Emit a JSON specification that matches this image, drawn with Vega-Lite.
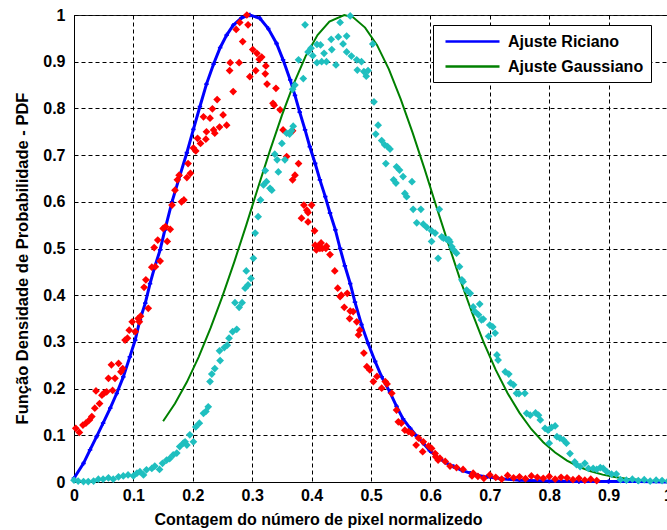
{
  "$schema": "https://vega.github.io/schema/vega-lite/v6.json",
  "width": 594,
  "height": 467,
  "autosize": {"type": "none"},
  "padding": {"left": 74, "top": 15, "right": 0, "bottom": 48},
  "background": "white",
  "config": {
    "view": {"stroke": "#222", "strokeWidth": 1},
    "font": "Liberation Sans"
  },
  "datasets": {
    "blue": [
      {"x":0,"y":0.008},{"x":0.016,"y":0.04},{"x":0.027,"y":0.069},{"x":0.038,"y":0.097},{"x":0.049,"y":0.126},{"x":0.061,"y":0.158},{"x":0.072,"y":0.19},{"x":0.083,"y":0.225},{"x":0.094,"y":0.268},{"x":0.103,"y":0.304},{"x":0.111,"y":0.347},{"x":0.12,"y":0.383},{"x":0.128,"y":0.425},{"x":0.136,"y":0.461},{"x":0.145,"y":0.497},{"x":0.153,"y":0.54},{"x":0.165,"y":0.6},{"x":0.178,"y":0.655},{"x":0.19,"y":0.705},{"x":0.201,"y":0.755},{"x":0.212,"y":0.804},{"x":0.223,"y":0.852},{"x":0.235,"y":0.895},{"x":0.246,"y":0.93},{"x":0.257,"y":0.957},{"x":0.268,"y":0.978},{"x":0.282,"y":0.994},{"x":0.296,"y":1.0},{"x":0.313,"y":0.993},{"x":0.327,"y":0.971},{"x":0.341,"y":0.939},{"x":0.352,"y":0.904},{"x":0.364,"y":0.861},{"x":0.372,"y":0.828},{"x":0.38,"y":0.792},{"x":0.389,"y":0.754},{"x":0.397,"y":0.718},{"x":0.406,"y":0.682},{"x":0.414,"y":0.647},{"x":0.423,"y":0.611},{"x":0.431,"y":0.576},{"x":0.44,"y":0.54},{"x":0.448,"y":0.5},{"x":0.456,"y":0.463},{"x":0.465,"y":0.425},{"x":0.473,"y":0.385},{"x":0.484,"y":0.337},{"x":0.495,"y":0.297},{"x":0.507,"y":0.258},{"x":0.518,"y":0.225},{"x":0.532,"y":0.192},{"x":0.543,"y":0.162},{"x":0.554,"y":0.135},{"x":0.566,"y":0.115},{"x":0.577,"y":0.098},{"x":0.588,"y":0.083},{"x":0.599,"y":0.067},{"x":0.611,"y":0.054},{"x":0.625,"y":0.042},{"x":0.639,"y":0.033},{"x":0.653,"y":0.025},{"x":0.667,"y":0.019},{"x":0.68,"y":0.014},{"x":0.695,"y":0.011},{"x":0.72,"y":0.007},{"x":0.75,"y":0.004},{"x":0.8,"y":0.002},{"x":0.85,"y":0.001},{"x":0.9,"y":0.001},{"x":0.95,"y":0.001},{"x":1.0,"y":0.0}
    ],
    "green": [
      {"x":0.15,"y":0.13},{"x":0.17,"y":0.168},{"x":0.19,"y":0.214},{"x":0.21,"y":0.268},{"x":0.23,"y":0.33},{"x":0.25,"y":0.398},{"x":0.27,"y":0.472},{"x":0.29,"y":0.55},{"x":0.31,"y":0.631},{"x":0.33,"y":0.71},{"x":0.35,"y":0.785},{"x":0.37,"y":0.853},{"x":0.39,"y":0.912},{"x":0.41,"y":0.957},{"x":0.43,"y":0.986},{"x":0.455,"y":1.0},{"x":0.47,"y":0.995},{"x":0.49,"y":0.973},{"x":0.51,"y":0.936},{"x":0.53,"y":0.884},{"x":0.55,"y":0.82},{"x":0.57,"y":0.748},{"x":0.59,"y":0.671},{"x":0.61,"y":0.59},{"x":0.63,"y":0.511},{"x":0.65,"y":0.434},{"x":0.67,"y":0.363},{"x":0.69,"y":0.298},{"x":0.71,"y":0.24},{"x":0.73,"y":0.19},{"x":0.75,"y":0.148},{"x":0.77,"y":0.113},{"x":0.79,"y":0.0853},{"x":0.81,"y":0.0631},{"x":0.83,"y":0.0458},{"x":0.85,"y":0.0327},{"x":0.87,"y":0.0229},{"x":0.89,"y":0.0158},{"x":0.91,"y":0.0107},{"x":0.93,"y":0.0071},{"x":0.96,"y":0.0037}
    ],
    "red": [
      {"x":0.003,"y":0.115},{"x":0.009,"y":0.106},{"x":0.015,"y":0.122},{"x":0.02,"y":0.126},{"x":0.026,"y":0.133},{"x":0.03,"y":0.14},{"x":0.035,"y":0.158},{"x":0.043,"y":0.168},{"x":0.037,"y":0.195},{"x":0.047,"y":0.186},{"x":0.051,"y":0.191},{"x":0.055,"y":0.193},{"x":0.065,"y":0.196},{"x":0.058,"y":0.222},{"x":0.063,"y":0.251},{"x":0.069,"y":0.222},{"x":0.075,"y":0.254},{"x":0.079,"y":0.236},{"x":0.082,"y":0.243},{"x":0.086,"y":0.304},{"x":0.09,"y":0.308},{"x":0.093,"y":0.325},{"x":0.098,"y":0.343},{"x":0.103,"y":0.322},{"x":0.108,"y":0.35},{"x":0.112,"y":0.355},{"x":0.11,"y":0.343},{"x":0.125,"y":0.372},
      {"x":0.118,"y":0.417},{"x":0.121,"y":0.433},{"x":0.131,"y":0.46},{"x":0.137,"y":0.461},{"x":0.145,"y":0.473},{"x":0.135,"y":0.502},{"x":0.141,"y":0.518},{"x":0.157,"y":0.515},{"x":0.15,"y":0.543},{"x":0.154,"y":0.547},{"x":0.162,"y":0.541},{"x":0.165,"y":0.593},{"x":0.17,"y":0.625},{"x":0.174,"y":0.647},{"x":0.177,"y":0.657},{"x":0.181,"y":0.6},{"x":0.185,"y":0.604},{"x":0.19,"y":0.652},{"x":0.196,"y":0.661},{"x":0.192,"y":0.682},{"x":0.201,"y":0.715},{"x":0.205,"y":0.709},{"x":0.208,"y":0.736},{"x":0.213,"y":0.725},{"x":0.223,"y":0.75},{"x":0.222,"y":0.734},{"x":0.218,"y":0.782},{"x":0.229,"y":0.779},{"x":0.235,"y":0.754},{"x":0.237,"y":0.747},{"x":0.245,"y":0.76},{"x":0.251,"y":0.786},{"x":0.257,"y":0.764},
      {"x":0.241,"y":0.819},{"x":0.233,"y":0.799},{"x":0.268,"y":0.836},{"x":0.262,"y":0.881},{"x":0.263,"y":0.898},{"x":0.278,"y":0.898},{"x":0.296,"y":0.868},{"x":0.306,"y":0.881},{"x":0.323,"y":0.891},{"x":0.322,"y":0.874},{"x":0.325,"y":0.852},{"x":0.34,"y":0.843},{"x":0.284,"y":0.943},{"x":0.273,"y":0.969},{"x":0.279,"y":0.984},{"x":0.293,"y":0.979},{"x":0.291,"y":1.0},{"x":0.301,"y":0.926},{"x":0.308,"y":0.918},{"x":0.312,"y":0.905},{"x":0.316,"y":0.91},{"x":0.335,"y":0.811},{"x":0.337,"y":0.807},{"x":0.347,"y":0.797},{"x":0.352,"y":0.754},{"x":0.368,"y":0.752},{"x":0.358,"y":0.697},{"x":0.378,"y":0.682},{"x":0.372,"y":0.657},{"x":0.368,"y":0.647},{"x":0.387,"y":0.593},{"x":0.392,"y":0.582},{"x":0.4,"y":0.593},{"x":0.394,"y":0.577},{"x":0.383,"y":0.565},{"x":0.394,"y":0.557},{"x":0.405,"y":0.538},
      {"x":0.406,"y":0.507},{"x":0.411,"y":0.505},{"x":0.416,"y":0.512},{"x":0.414,"y":0.5},{"x":0.425,"y":0.505},{"x":0.408,"y":0.497},{"x":0.418,"y":0.5},{"x":0.424,"y":0.5},{"x":0.431,"y":0.487},{"x":0.439,"y":0.452},{"x":0.444,"y":0.415},{"x":0.448,"y":0.397},{"x":0.45,"y":0.4},{"x":0.46,"y":0.404},{"x":0.455,"y":0.374},{"x":0.465,"y":0.366},{"x":0.47,"y":0.365},{"x":0.464,"y":0.35},{"x":0.476,"y":0.343},{"x":0.481,"y":0.325},{"x":0.479,"y":0.315},{"x":0.488,"y":0.276},{"x":0.493,"y":0.247},{"x":0.498,"y":0.24},{"x":0.504,"y":0.215},{"x":0.51,"y":0.226},{"x":0.518,"y":0.201},{"x":0.524,"y":0.215},{"x":0.527,"y":0.21},{"x":0.535,"y":0.19},{"x":0.543,"y":0.154},{"x":0.546,"y":0.129},{"x":0.551,"y":0.126},{"x":0.557,"y":0.111},{"x":0.563,"y":0.108},{"x":0.569,"y":0.104},{"x":0.576,"y":0.079},{"x":0.58,"y":0.094},{"x":0.588,"y":0.086},{"x":0.587,"y":0.065},{"x":0.597,"y":0.077},{"x":0.602,"y":0.072},{"x":0.609,"y":0.054},{"x":0.613,"y":0.047},{"x":0.608,"y":0.061},{"x":0.616,"y":0.051},{"x":0.625,"y":0.044},{"x":0.633,"y":0.034},{"x":0.644,"y":0.031},{"x":0.655,"y":0.027},{"x":0.67,"y":0.013},{"x":0.672,"y":0.019},
      {"x":0.68,"y":0.012},{"x":0.69,"y":0.008},{"x":0.7,"y":0.015},{"x":0.71,"y":0.01},{"x":0.72,"y":0.006},{"x":0.73,"y":0.014},{"x":0.74,"y":0.009},{"x":0.75,"y":0.011},{"x":0.76,"y":0.007},{"x":0.77,"y":0.013},{"x":0.78,"y":0.01},{"x":0.79,"y":0.008},{"x":0.8,"y":0.012},{"x":0.81,"y":0.006},{"x":0.82,"y":0.01},{"x":0.83,"y":0.009},{"x":0.84,"y":0.005},{"x":0.85,"y":0.008},{"x":0.86,"y":0.004},{"x":0.87,"y":0.006},{"x":0.88,"y":0.003}
    ],
    "cyan": [
      {"x":0.0,"y":0.004},{"x":0.007,"y":0.002},{"x":0.016,"y":0.001},{"x":0.024,"y":0.001},{"x":0.033,"y":0.002},{"x":0.041,"y":0.006},{"x":0.049,"y":0.006},{"x":0.058,"y":0.009},{"x":0.066,"y":0.006},{"x":0.075,"y":0.011},{"x":0.083,"y":0.013},{"x":0.091,"y":0.015},{"x":0.1,"y":0.013},{"x":0.106,"y":0.019},{"x":0.111,"y":0.022},{"x":0.117,"y":0.015},{"x":0.122,"y":0.026},{"x":0.131,"y":0.029},{"x":0.136,"y":0.034},{"x":0.144,"y":0.027},{"x":0.149,"y":0.04},{"x":0.156,"y":0.047},{"x":0.161,"y":0.05},{"x":0.167,"y":0.058},{"x":0.173,"y":0.062},{"x":0.178,"y":0.076},{"x":0.184,"y":0.083},{"x":0.187,"y":0.086},{"x":0.19,"y":0.079},{"x":0.195,"y":0.101},{"x":0.201,"y":0.086},{"x":0.205,"y":0.118},{"x":0.211,"y":0.126},{"x":0.218,"y":0.147},{"x":0.222,"y":0.151},{"x":0.226,"y":0.161},
      {"x":0.229,"y":0.215},{"x":0.232,"y":0.231},{"x":0.237,"y":0.243},{"x":0.246,"y":0.26},{"x":0.245,"y":0.281},{"x":0.253,"y":0.288},{"x":0.258,"y":0.293},{"x":0.261,"y":0.308},{"x":0.267,"y":0.322},{"x":0.274,"y":0.327},{"x":0.271,"y":0.384},{"x":0.278,"y":0.374},{"x":0.283,"y":0.384},{"x":0.288,"y":0.415},{"x":0.293,"y":0.422},{"x":0.298,"y":0.436},{"x":0.29,"y":0.452},{"x":0.302,"y":0.479},{"x":0.305,"y":0.533},{"x":0.31,"y":0.568},{"x":0.314,"y":0.604},{"x":0.319,"y":0.636},{"x":0.324,"y":0.643},{"x":0.322,"y":0.667},{"x":0.33,"y":0.629},{"x":0.333,"y":0.625},{"x":0.344,"y":0.664},{"x":0.338,"y":0.702},{"x":0.342,"y":0.69},{"x":0.355,"y":0.69},{"x":0.35,"y":0.725},{"x":0.358,"y":0.747},{"x":0.363,"y":0.745},{"x":0.366,"y":0.752},{"x":0.369,"y":0.762},{"x":0.368,"y":0.841},{"x":0.372,"y":0.85},{"x":0.386,"y":0.864},{"x":0.378,"y":0.904},{"x":0.389,"y":0.979},{"x":0.394,"y":0.921},{"x":0.399,"y":0.929},{"x":0.402,"y":0.913},{"x":0.409,"y":0.937},{"x":0.409,"y":0.898},{"x":0.417,"y":0.9},{"x":0.415,"y":0.936},{"x":0.421,"y":0.918},{"x":0.425,"y":0.9},{"x":0.433,"y":0.948},{"x":0.434,"y":0.926},{"x":0.441,"y":0.893},{"x":0.445,"y":0.953},{"x":0.448,"y":0.984},{"x":0.453,"y":0.938},{"x":0.459,"y":0.955},{"x":0.459,"y":0.921},{"x":0.465,"y":0.998},{"x":0.467,"y":0.912},{"x":0.476,"y":0.904},{"x":0.477,"y":0.882},{"x":0.484,"y":0.9},{"x":0.488,"y":0.879},{"x":0.492,"y":0.869},{"x":0.495,"y":0.881},{"x":0.503,"y":0.938},
      {"x":0.505,"y":0.814},{"x":0.512,"y":0.764},{"x":0.508,"y":0.745},{"x":0.518,"y":0.731},{"x":0.523,"y":0.722},{"x":0.528,"y":0.718},{"x":0.532,"y":0.713},{"x":0.525,"y":0.682},{"x":0.543,"y":0.675},{"x":0.548,"y":0.668},{"x":0.538,"y":0.647},{"x":0.542,"y":0.64},{"x":0.554,"y":0.654},{"x":0.569,"y":0.643},{"x":0.557,"y":0.618},{"x":0.56,"y":0.611},{"x":0.571,"y":0.584},{"x":0.584,"y":0.584},{"x":0.577,"y":0.555},{"x":0.588,"y":0.552},{"x":0.594,"y":0.545},{"x":0.602,"y":0.538},{"x":0.608,"y":0.533},{"x":0.615,"y":0.584},{"x":0.622,"y":0.522},{"x":0.627,"y":0.52},{"x":0.631,"y":0.519},{"x":0.636,"y":0.504},{"x":0.613,"y":0.479},{"x":0.644,"y":0.49},{"x":0.602,"y":0.515},{"x":0.619,"y":0.525},{"x":0.633,"y":0.514},{"x":0.639,"y":0.497},{"x":0.649,"y":0.461},{"x":0.653,"y":0.433},{"x":0.655,"y":0.429},{"x":0.661,"y":0.411},{"x":0.667,"y":0.404},{"x":0.672,"y":0.375},{"x":0.675,"y":0.365},{"x":0.683,"y":0.381},{"x":0.681,"y":0.358},{"x":0.686,"y":0.347},{"x":0.689,"y":0.349},{"x":0.7,"y":0.336},{"x":0.705,"y":0.332},{"x":0.709,"y":0.319},{"x":0.698,"y":0.312},{"x":0.712,"y":0.272},{"x":0.714,"y":0.261},{"x":0.726,"y":0.236},{"x":0.732,"y":0.231},{"x":0.735,"y":0.212},{"x":0.74,"y":0.208},{"x":0.745,"y":0.19},{"x":0.749,"y":0.189},{"x":0.759,"y":0.19},{"x":0.762,"y":0.147},{"x":0.768,"y":0.143},{"x":0.777,"y":0.148},{"x":0.782,"y":0.143},{"x":0.785,"y":0.133},{"x":0.793,"y":0.115},{"x":0.798,"y":0.111},{"x":0.804,"y":0.117},{"x":0.81,"y":0.12},{"x":0.813,"y":0.097},{"x":0.818,"y":0.094},{"x":0.824,"y":0.09},{"x":0.829,"y":0.083},{"x":0.8,"y":0.083},{"x":0.835,"y":0.061},{"x":0.843,"y":0.043},{"x":0.846,"y":0.037},{"x":0.852,"y":0.033},{"x":0.86,"y":0.04},{"x":0.866,"y":0.029},{"x":0.874,"y":0.029},{"x":0.88,"y":0.027},{"x":0.886,"y":0.031},{"x":0.891,"y":0.029},{"x":0.897,"y":0.022},{"x":0.905,"y":0.017},{"x":0.913,"y":0.017},{"x":0.92,"y":0.005},{"x":0.93,"y":0.004},{"x":0.94,"y":0.006},{"x":0.95,"y":0.003},{"x":0.96,"y":0.005},{"x":0.97,"y":0.002},{"x":0.98,"y":0.004},{"x":0.99,"y":0.003},{"x":1.0,"y":0.002}
    ]
  },
  "encoding": {
    "x": {
      "field": "x", "type": "quantitative",
      "scale": {"domain": [0, 1], "nice": false, "zero": false},
      "axis": {
        "values": [0,0.1,0.2,0.3,0.4,0.5,0.6,0.7,0.8,0.9,1],
        "format": ".1~f",
        "labelFlush": false, "labelOverlap": false,
        "labelFont": "Liberation Sans", "labelFontWeight": "bold", "labelFontSize": 16, "labelColor": "black", "labelPadding": 5,
        "ticks": false, "domainColor": "black",
        "grid": true, "gridColor": "black", "gridDash": [4, 3], "gridOpacity": 1, "gridWidth": 1,
        "title": "Contagem do número de pixel normalizedo",
        "titleFont": "Liberation Sans", "titleFontWeight": "bold", "titleFontSize": 16, "titleColor": "black",
        "titleX": 244, "titleY": 42, "titleAlign": "center", "titleBaseline": "alphabetic"
      }
    },
    "y": {
      "field": "y", "type": "quantitative",
      "scale": {"domain": [0, 1], "nice": false},
      "axis": {
        "values": [0,0.1,0.2,0.3,0.4,0.5,0.6,0.7,0.8,0.9,1],
        "format": ".1~f",
        "labelFlush": false, "labelOverlap": false,
        "labelFont": "Liberation Sans", "labelFontWeight": "bold", "labelFontSize": 16, "labelColor": "black", "labelPadding": 9,
        "ticks": false, "domainColor": "black",
        "grid": true, "gridColor": "black", "gridDash": [4, 3], "gridOpacity": 1, "gridWidth": 1,
        "title": "Função Densidade de Probabilidade - PDF",
        "titleFont": "Liberation Sans", "titleFontWeight": "bold", "titleFontSize": 16.5, "titleColor": "black",
        "titleX": -52, "titleY": 243, "titleAlign": "center", "titleBaseline": "middle", "titleAngle": -90
      }
    }
  },
  "layer": [
    {
      "data": {"name": "blue"},
      "mark": {"type": "line", "strokeWidth": 3},
      "encoding": {
        "color": {
          "datum": "Ajuste Riciano",
          "scale": {"domain": ["Ajuste Riciano", "Ajuste Gaussiano"], "range": ["#0000FF", "#008000"]},
          "legend": {
            "title": null, "orient": "none", "legendX": 359, "legendY": 10,
            "strokeColor": "black", "fillColor": "white", "padding": 7,
            "symbolType": "M-3.375,0L3.375,0", "symbolSize": 256, "symbolStrokeWidth": 2.5, "symbolOffset": 23,
            "labelOffset": 26, "rowPadding": 7,
            "labelFont": "Liberation Sans", "labelFontWeight": "bold", "labelFontSize": 16, "labelColor": "black", "labelLimit": 0
          }
        }
      }
    },
    {
      "data": {"name": "blue"},
      "mark": {"type": "point", "shape": "cross", "filled": true, "size": 20, "color": "#0000FF", "opacity": 1}
    },
    {
      "data": {"name": "red"},
      "mark": {"type": "point", "shape": "diamond", "filled": true, "size": 60, "color": "#FF0000", "opacity": 1}
    },
    {
      "data": {"name": "green"},
      "mark": {"type": "line", "strokeWidth": 2},
      "encoding": {"color": {"datum": "Ajuste Gaussiano"}}
    },
    {
      "data": {"name": "cyan"},
      "mark": {"type": "point", "shape": "diamond", "filled": true, "size": 60, "color": "#1FBFBF", "opacity": 1}
    }
  ]
}
